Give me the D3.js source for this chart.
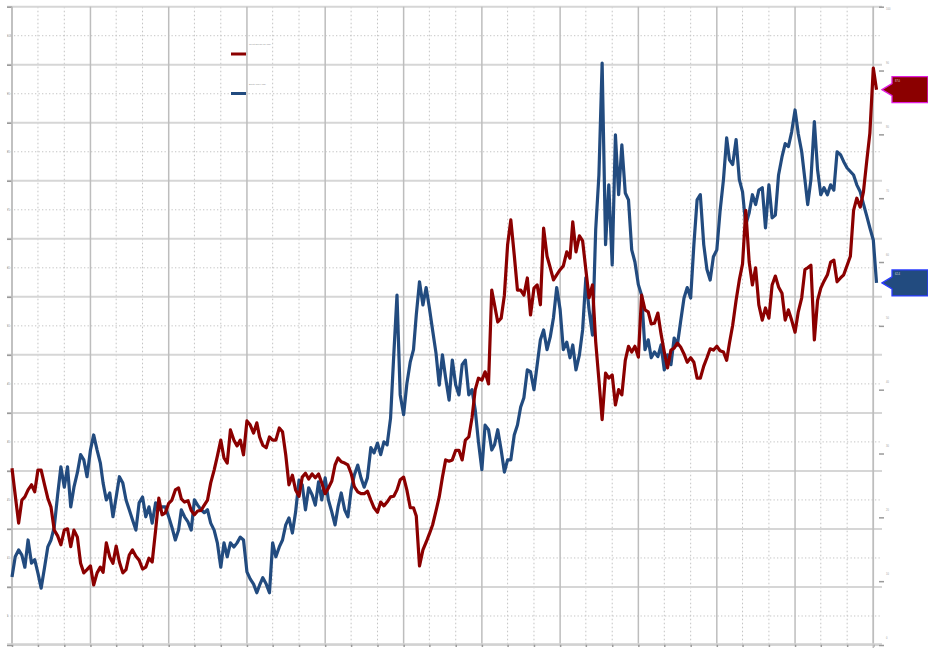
<!doctype html>
<html>
<head>
<meta charset="utf-8">
<style>
  body { margin: 0; background: #fff; }
  svg { display: block; font-family: "Liberation Sans", Arial, sans-serif; }
  .tiny { font-size: 2.6px; fill: #8c8c8c; }
  .axis path { display: none; }
</style>
<script src="https://d3js.org/d3.v7.min.js"></script>
</head>
<body>
<svg width="928" height="648"></svg>
<script>
// semi-monthly observations, Jan 2008 onwards
var startYear = 2008, endYear = 2019;
var leftTicks = [0, 10, 20, 30, 40, 50, 60, 70, 80, 90, 100, 110];
var leftMinor = [5, 15, 25, 35, 45, 55, 65, 75, 85, 95, 105];
var rightTicks = [0, 10, 20, 30, 40, 50, 60, 70, 80, 90, 100];
var blueName = "Equity index (lhs)";
var redName = "Credit spread, bp (rhs)";

var blueValues = [
  11.7, 15.2, 16.4, 15.5, 13.4, 18.1, 14.1, 14.7, 12.4, 9.8,
  13.4, 16.9, 18.1, 20.3, 25.9, 30.7, 27.2, 30.7, 23.8, 27.2,
  29.7, 32.8, 31.9, 29.0, 33.6, 36.2, 33.6, 31.4, 27.9, 25.0,
  26.2, 22.1, 25.5, 29.0, 27.9, 25.0, 23.3, 21.6, 19.8, 24.5,
  25.5, 22.1, 23.8, 21.0, 24.5, 23.3, 23.8, 23.8, 22.1, 20.3,
  18.1, 19.8, 23.3, 22.1, 21.2, 19.8, 25.0, 24.1, 23.3, 22.8,
  23.3, 21.0, 19.8, 17.6, 13.4, 17.6, 15.2, 17.6, 16.9, 17.6,
  18.6, 18.1, 12.6, 11.4, 10.5, 9.0, 10.3, 11.6, 10.5, 9.0,
  17.6, 15.2, 16.9, 18.1, 20.7, 21.9, 19.3, 22.9, 28.4, 27.6,
  23.3, 27.1, 25.9, 24.1, 28.1, 25.0, 28.8, 25.0, 22.9, 20.7,
  23.8, 26.2, 23.3, 22.1, 26.7, 29.3, 31.0, 28.8, 27.2, 28.8,
  34.0, 33.1, 34.8, 32.8, 35.0, 34.5, 39.1, 50.0, 60.3, 43.1,
  39.7, 45.0, 48.8, 50.9, 56.9, 62.6, 58.6, 61.6, 58.1, 54.3,
  50.3, 44.8, 50.0, 46.0, 42.2, 49.1, 44.8, 43.1, 48.3, 49.1,
  43.1, 44.0, 40.5, 35.0, 30.2, 37.9, 37.1, 33.6, 34.5, 37.1,
  33.6, 29.8, 31.9, 31.9, 36.2, 37.9, 41.0, 42.6, 47.4, 47.1,
  44.0, 48.3, 52.6, 54.3, 50.9, 53.1, 56.4, 61.6, 57.8, 50.9,
  52.2, 49.5, 51.7, 47.4, 50.0, 54.3, 63.3, 57.8, 53.4, 71.6,
  81.0, 100.3, 69.0, 79.3, 65.5, 87.9, 77.6, 86.2, 77.9, 76.7,
  68.1, 66.0, 62.1, 60.3, 50.9, 52.6, 49.5, 50.5, 49.7, 51.7,
  47.4, 50.0, 48.3, 52.9, 51.7, 55.7, 59.8, 61.6, 59.8, 69.0,
  76.7, 77.6, 69.0, 64.7, 62.9, 66.9, 68.1, 74.7, 80.2, 87.4,
  83.6, 82.8, 87.1, 80.2, 78.1, 72.4, 74.5, 77.6, 75.9, 78.4,
  78.8, 71.9, 79.3, 73.6, 74.1, 81.0, 84.1, 86.4, 85.9, 88.4,
  92.2, 88.1, 85.0, 80.2, 75.9, 80.2, 90.2, 81.9, 77.6, 78.8,
  77.6, 79.3, 78.4, 85.0, 84.5, 83.3, 82.2, 81.6, 81.0, 79.3,
  78.1, 76.0, 74.0, 71.9, 69.8, 62.4
];

var redValues = [
  27.7, 23.5, 19.1, 22.7, 23.2, 24.3, 25.1, 24.0, 27.4, 27.4,
  25.1, 23.0, 21.6, 18.0, 17.1, 15.7, 18.0, 18.2, 15.4, 18.0,
  16.9, 12.8, 11.3, 11.8, 12.4, 9.4, 11.3, 12.2, 11.4, 16.0,
  13.8, 12.8, 15.5, 13.0, 11.3, 11.8, 14.1, 14.9, 13.9, 13.3,
  11.9, 12.2, 13.6, 13.0, 18.0, 23.0, 20.4, 20.7, 22.2, 22.7,
  24.3, 24.6, 22.9, 22.4, 22.6, 21.1, 20.4, 21.0, 21.1, 21.9,
  22.7, 25.4, 27.4, 29.6, 32.1, 29.3, 28.5, 33.7, 32.1, 31.2,
  32.1, 29.8, 35.1, 34.5, 33.2, 34.8, 32.6, 31.3, 30.9, 32.6,
  32.1, 32.1, 34.0, 33.4, 29.8, 25.1, 26.6, 24.3, 23.3, 26.3,
  26.9, 26.0, 26.8, 26.2, 26.8, 25.4, 23.7, 24.6, 25.7, 28.2,
  29.3, 28.7, 28.5, 28.2, 26.9, 24.8, 24.0, 23.7, 23.7, 24.1,
  22.7, 21.5, 20.8, 22.4, 21.8, 22.4, 23.2, 23.3, 24.3, 25.9,
  26.3, 24.3, 21.5, 21.5, 20.2, 12.4, 14.9, 16.1, 17.4, 18.8,
  21.0, 23.2, 26.3, 29.0, 28.8, 29.0, 30.5, 30.5, 29.0, 32.1,
  32.6, 35.6, 40.0, 41.8, 41.5, 42.8, 40.9, 55.6, 53.3, 50.6,
  51.2, 54.8, 62.7, 66.6, 61.1, 55.6, 55.6, 54.8, 57.5, 51.7,
  55.9, 56.4, 53.3, 65.3, 60.9, 59.1, 57.2, 58.0, 58.8, 59.4,
  61.6, 60.6, 66.3, 61.6, 64.1, 63.3, 58.8, 54.4, 56.4, 47.5,
  41.5, 35.3, 42.6, 41.8, 42.3, 37.6, 40.0, 39.2, 44.6, 46.8,
  45.9, 46.8, 45.1, 54.8, 52.5, 52.2, 50.3, 50.4, 52.0, 48.7,
  45.9, 43.4, 46.2, 46.5, 47.3, 46.7, 45.6, 44.3, 45.0, 44.3,
  41.8, 41.8, 43.7, 45.0, 46.4, 46.2, 46.8, 46.1, 45.9, 44.6,
  47.3, 50.1, 54.0, 57.2, 59.7, 68.1, 60.0, 56.4, 59.1, 53.3,
  50.9, 52.8, 51.2, 56.4, 57.8, 56.1, 55.1, 50.9, 52.5, 50.9,
  49.0, 52.2, 54.4, 58.8, 59.1, 59.5, 47.8, 54.0, 55.9, 57.0,
  58.0, 60.0, 60.3, 56.9, 57.5, 58.0, 59.5, 60.9, 68.1, 70.0,
  68.6, 71.0, 75.7, 80.2, 90.4, 87.0
];

var dates = blueValues.map(function(d, i) {
    return new Date(startYear, Math.floor(i / 2), i % 2 ? 16 : 1);
});

var svg = d3.select("svg"),
    plotL = 12, plotR = 873.3, plotT = 6.7, plotB = 645;

var x = d3.scaleTime()
    .domain([new Date(startYear, 0, 1), new Date(endYear, 0, 1)])
    .range([plotL, plotR]);
var yL = d3.scaleLinear().domain([0, 110]).range([plotB, plotT]);
var yR = d3.scaleLinear().domain([0, 100]).range([plotB, plotT]);

svg.append("rect").attr("width", 928).attr("height", 648).attr("fill", "#fff");

var years = d3.timeYear.range(new Date(startYear, 0, 1), new Date(endYear, 0, 2));
var thirds = d3.timeMonth.every(4).range(new Date(startYear, 0, 1), new Date(endYear, 0, 1))
    .filter(function(d) { return d.getMonth() !== 0; });

// grid
var grid = svg.append("g");
grid.selectAll(".hminor").data(leftMinor).enter().append("line")
    .attr("x1", 7).attr("x2", 880)
    .attr("y1", function(d) { return yL(d); }).attr("y2", function(d) { return yL(d); })
    .attr("stroke", "#c4c4c4").attr("stroke-width", 1)
    .attr("stroke-dasharray", "1.3,2.2");
grid.selectAll(".vminor").data(thirds).enter().append("line")
    .attr("x1", function(d) { return x(d); }).attr("x2", function(d) { return x(d); })
    .attr("y1", plotT).attr("y2", plotB)
    .attr("stroke", "#c4c4c4").attr("stroke-width", 1)
    .attr("stroke-dasharray", "1.6,2.4");
grid.selectAll(".hmajor").data(leftTicks).enter().append("line")
    .attr("x1", 7).attr("x2", 882)
    .attr("y1", function(d) { return yL(d); }).attr("y2", function(d) { return yL(d); })
    .attr("stroke", "#d6d6d6").attr("stroke-width", 2);
grid.selectAll(".vmajor").data(years).enter().append("line")
    .attr("x1", function(d) { return x(d); }).attr("x2", function(d) { return x(d); })
    .attr("y1", plotT).attr("y2", plotB)
    .attr("stroke", "#bdbdbd").attr("stroke-width", 1.5);

// left axis
var gL = svg.append("g").attr("class", "axis")
    .attr("transform", "translate(" + plotL + ",0)")
    .call(d3.axisLeft(yL).tickValues(leftTicks).tickSize(5).tickFormat(""));
gL.selectAll("line").attr("stroke", "#9a9a9a").attr("stroke-width", 1.5);
svg.selectAll(".lminor").data(leftMinor).enter().append("text")
    .attr("class", "tiny")
    .attr("x", 7).attr("y", function(d) { return yL(d); }).attr("dy", "0.35em")
    .text(function(d) { return d; });

// right axis
var gR = svg.append("g").attr("class", "axis")
    .attr("transform", "translate(879,0)")
    .call(d3.axisRight(yR).tickValues(rightTicks).tickSize(5).tickPadding(3));
gR.selectAll("line").attr("stroke", "#9a9a9a").attr("stroke-width", 1.5);
gR.selectAll("text").attr("dy", "-7").attr("x", 7)
    .style("font-size", "2.6px").attr("fill", "#a0a0a0");
gR.selectAll(".tick").filter(function(d) { return d === 100; }).select("text").attr("dy", "3");

// bottom axis
var gB = svg.append("g").attr("class", "axis")
    .attr("transform", "translate(0," + (plotB - 1) + ")")
    .call(d3.axisBottom(x).ticks(d3.timeMonth.every(4)).tickSize(3).tickPadding(0.5)
        .tickFormat(d3.timeFormat("%b-%y")));
gB.selectAll("line").attr("stroke", "#9a9a9a").attr("stroke-width", 1.5);
gB.selectAll("text").style("font-size", "2.2px").attr("fill", "#8c8c8c");

// axis lines
svg.append("line").attr("x1", plotL).attr("x2", plotL).attr("y1", plotT).attr("y2", plotB)
    .attr("stroke", "#bdbdbd").attr("stroke-width", 1.5);
svg.append("line").attr("x1", plotR).attr("x2", plotR).attr("y1", plotT).attr("y2", 648)
    .attr("stroke", "#bdbdbd").attr("stroke-width", 1.5);
svg.append("line").attr("x1", 7).attr("x2", 882).attr("y1", plotB - 1).attr("y2", plotB - 1)
    .attr("stroke", "#d0d0d0").attr("stroke-width", 1.5);

// series
var blueLine = d3.line()
    .x(function(d, i) { return x(dates[i]); })
    .y(function(d) { return yL(d); });
var redLine = d3.line()
    .x(function(d, i) { return x(dates[i]); })
    .y(function(d) { return yR(d); });

svg.append("path").datum(blueValues)
    .attr("d", blueLine).attr("fill", "none")
    .attr("stroke", "#224b7f").attr("stroke-width", 3.2)
    .attr("stroke-linejoin", "round");
svg.append("path").datum(redValues)
    .attr("d", redLine).attr("fill", "none")
    .attr("stroke", "#8b0000").attr("stroke-width", 3.2)
    .attr("stroke-linejoin", "round");

// legend
var legend = [
    { name: redName, color: "#8b0000", y: 54 },
    { name: blueName, color: "#224b7f", y: 93.5 }
];
legend.forEach(function(l) {
    svg.append("line").attr("x1", 231).attr("x2", 246)
        .attr("y1", l.y).attr("y2", l.y)
        .attr("stroke", l.color).attr("stroke-width", 3);
    svg.append("text").attr("class", "tiny")
        .attr("x", 249).attr("y", l.y - 9)
        .style("font-size", "2.2px").attr("fill", "#777")
        .text(l.name);
});

// end-of-series flags
function flag(yPos, fill, edge, value) {
    var pts = [[882, yPos], [892, yPos - 6], [892, yPos - 13], [928, yPos - 13],
               [928, yPos + 13], [892, yPos + 13], [892, yPos + 6]];
    svg.append("polygon")
        .attr("points", pts.map(function(p) { return p.join(","); }).join(" "))
        .attr("fill", fill).attr("stroke", edge).attr("stroke-width", 1.3);
    svg.append("text").attr("x", 895).attr("y", yPos - 8)
        .style("font-size", "2.6px").attr("fill", "#ddd")
        .text(value.toFixed(1));
}
var lastRed = redValues[redValues.length - 1],
    lastBlue = blueValues[blueValues.length - 1];
flag(yR(lastRed), "#8b0000", "#e01ee0", lastRed);
flag(yL(lastBlue), "#224b7f", "#2b3cff", lastBlue);
</script>
</body>
</html>
